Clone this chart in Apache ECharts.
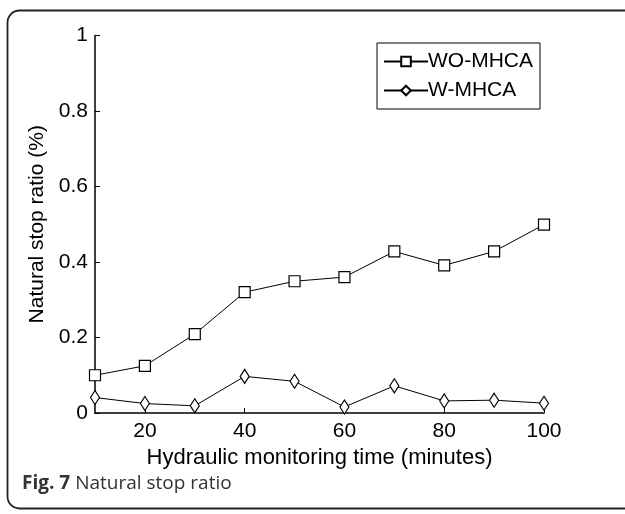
<!DOCTYPE html>
<html><head><meta charset="utf-8">
<script src="https://cdn.jsdelivr.net/npm/echarts@6/dist/echarts.min.js"></script>
<style>html,body{margin:0;padding:0;background:#fff}#c{width:625px;height:514px}</style>
</head><body><div id="c"></div>
<script>
const times = [10, 20, 30, 40, 50, 60, 70, 80, 90, 100];
const woMHCA = [0.100, 0.125, 0.209, 0.320, 0.349, 0.360, 0.428, 0.391, 0.428, 0.499];
const wMHCA = [0.041, 0.025, 0.019, 0.097, 0.084, 0.016, 0.072, 0.032, 0.034, 0.026];
const xTicks = [20, 40, 60, 80, 100];

const chart = echarts.init(document.getElementById('c'));
const font = 'Liberation Sans, Arial, sans-serif';
chart.setOption({
  animation: false,
  grid: {left: 95, right: 81, top: 35.5, bottom: 101},
  graphic: [
    {type: 'rect', shape: {x: 7.5, y: 10.5, width: 640, height: 498, r: 12}, style: {fill: 'none', stroke: '#222', lineWidth: 1.8}, z: 0},
    {type: 'text', left: 22, top: 474, style: {rich: {b: {fontFamily: 'Open Sans', fontWeight: 'bold', fontSize: 19, fill: '#333'}, n: {fontFamily: 'Open Sans', fontSize: 19, fill: '#333', padding: [0, 0, 0, 5]}}, text: '{b|Fig. 7}{n|Natural stop ratio}'}}
  ],
  legend: {
    right: 85, top: 43, orient: 'vertical', itemWidth: 44, itemHeight: 12, itemGap: 8,
    borderColor: '#000', borderWidth: 1, borderRadius: 0, padding: [8, 7, 8, 6],
    textStyle: {fontFamily: font, fontSize: 21, color: '#000', padding: [0, 0, 0, -5]},
    data: ['WO-MHCA', 'W-MHCA']
  },
  xAxis: {
    type: 'value', min: 10, max: 100,
    name: 'Hydraulic monitoring time (minutes)', nameLocation: 'middle', nameGap: 33,
    nameTextStyle: {fontFamily: font, fontSize: 22, color: '#000'},
    axisLine: {lineStyle: {color: '#000', width: 1.5}},
    axisTick: {inside: true, length: 5, customValues: xTicks, lineStyle: {color: '#000'}},
    axisLabel: {customValues: xTicks, fontFamily: font, fontSize: 21, color: '#000', margin: 8},
    splitLine: {show: false}
  },
  yAxis: {
    type: 'value', min: 0, max: 1, interval: 0.2,
    name: 'Natural stop ratio (%)', nameLocation: 'middle', nameGap: 41,
    nameTextStyle: {fontFamily: font, fontSize: 21, color: '#000'},
    axisLine: {show: true, lineStyle: {color: '#000', width: 1.5}},
    axisTick: {show: true, inside: true, length: 5, lineStyle: {color: '#000'}},
    axisLabel: {fontFamily: font, fontSize: 21, color: '#000', margin: 7, formatter: v => String(Math.round(v*10)/10)},
    splitLine: {show: false}
  },
  series: [
    {name: 'WO-MHCA', type: 'line', data: times.map((t, i) => [t, woMHCA[i]]),
     symbol: 'rect', symbolSize: 11, showAllSymbol: true,
     lineStyle: {color: '#000', width: 1}, itemStyle: {color: '#fff', borderColor: '#000', borderWidth: 1.2}},
    {name: 'W-MHCA', type: 'line', data: times.map((t, i) => [t, wMHCA[i]]),
     symbol: 'diamond', symbolSize: [9, 14], showAllSymbol: true,
     lineStyle: {color: '#000', width: 1}, itemStyle: {color: '#fff', borderColor: '#000', borderWidth: 1.2}}
  ]
});
</script></body></html>
